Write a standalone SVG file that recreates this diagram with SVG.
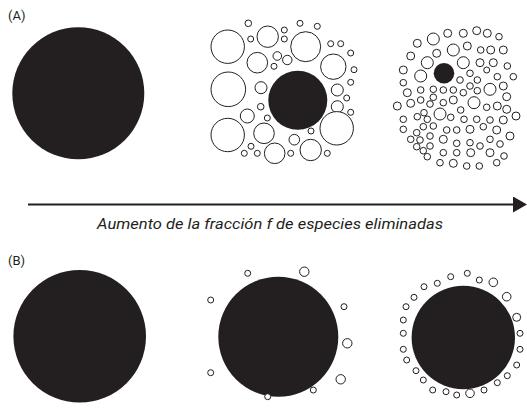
<svg xmlns="http://www.w3.org/2000/svg" width="527" height="411" viewBox="0 0 527 411">
<style>
.blk{fill:#231f20}
.o{fill:#fff;stroke:#231f20;stroke-width:1}
.lbl{font-family:Roboto,"Liberation Sans",sans-serif;font-size:13px;fill:#231f20}
.cap{font-family:Roboto,"Liberation Sans",sans-serif;font-size:14px;font-style:italic;fill:#231f20}
</style>
<defs>
<marker id="ah" markerWidth="14" markerHeight="16" refX="0" refY="8" orient="auto" markerUnits="userSpaceOnUse">
<path d="M0,0 L14,8 L0,16 Z" fill="#231f20"/>
</marker>
</defs>
<rect width="527" height="411" fill="#fff"/>
<text class="lbl" x="8" y="19.5">(A)</text>
<text class="lbl" x="8" y="264.5">(B)</text>

<g id="panelA1"><circle class="blk" cx="78.3" cy="93.3" r="66"/></g>

<g id="panelA2">
<circle class="blk" cx="297.8" cy="100.3" r="29.5"/>
<g class="o">
<circle cx="248.3" cy="23.3" r="3.3"/>
<circle cx="227.7" cy="46.7" r="16.7"/>
<circle cx="250.7" cy="39" r="3"/>
<circle cx="267.7" cy="36.7" r="10.7"/>
<circle cx="284.3" cy="30" r="3"/>
<circle cx="284.3" cy="39" r="3"/>
<circle cx="300" cy="23.3" r="3"/>
<circle cx="317.3" cy="26.3" r="3"/>
<circle cx="305.7" cy="46.7" r="15"/>
<circle cx="330.7" cy="43.7" r="3"/>
<circle cx="340.7" cy="43.7" r="3"/>
<circle cx="350.7" cy="53" r="3"/>
<circle cx="333.3" cy="66.7" r="12.7"/>
<circle cx="354" cy="69.7" r="3"/>
<circle cx="257.3" cy="62.7" r="10.3"/>
<circle cx="277.3" cy="56" r="4.3"/>
<circle cx="287.3" cy="60" r="4.7"/>
<circle cx="274" cy="66.3" r="3"/>
<circle cx="228.3" cy="89.3" r="17.3"/>
<circle cx="261" cy="87.7" r="6"/>
<circle cx="350.7" cy="82.3" r="3"/>
<circle cx="337.3" cy="90" r="6"/>
<circle cx="346.7" cy="98" r="3"/>
<circle cx="260.7" cy="106.7" r="3.3"/>
<circle cx="337.3" cy="106.7" r="6"/>
<circle cx="350.7" cy="112.3" r="3"/>
<circle cx="247.3" cy="116" r="7"/>
<circle cx="267.3" cy="118" r="3"/>
<circle cx="227.7" cy="135" r="16.7"/>
<circle cx="264" cy="133.3" r="10.3"/>
<circle cx="311" cy="131" r="3"/>
<circle cx="336.7" cy="128.3" r="16.7"/>
<circle cx="294.3" cy="139.7" r="5.3"/>
<circle cx="310.7" cy="150" r="10.7"/>
<circle cx="274.7" cy="153.3" r="10.3"/>
<circle cx="251" cy="146.3" r="3"/>
<circle cx="244.3" cy="153.3" r="3"/>
<circle cx="257.3" cy="153.3" r="3"/>
<circle cx="290.7" cy="153.3" r="3"/>
<circle cx="327.3" cy="153.3" r="3"/>
</g>
</g>

<g id="panelA3">
<g class="o">
<circle cx="476.7" cy="30.7" r="4"/>
<circle cx="487.3" cy="33.3" r="4"/>
<circle cx="463.3" cy="33.3" r="4"/>
<circle cx="447.7" cy="33.3" r="4"/>
<circle cx="499" cy="36.7" r="3.3"/>
<circle cx="433.3" cy="39" r="6"/>
<circle cx="417.3" cy="43.3" r="4"/>
<circle cx="453.3" cy="50" r="6"/>
<circle cx="467.3" cy="46" r="4"/>
<circle cx="480.7" cy="50" r="3.3"/>
<circle cx="490.7" cy="50" r="4"/>
<circle cx="503.3" cy="50" r="4"/>
<circle cx="436.7" cy="53.3" r="4"/>
<circle cx="410.7" cy="56" r="4"/>
<circle cx="427.3" cy="62.7" r="6"/>
<circle cx="463.3" cy="62.7" r="6"/>
<circle cx="480" cy="62.7" r="4"/>
<circle cx="493.3" cy="62.7" r="4"/>
<circle cx="507.3" cy="66" r="3.3"/>
<circle cx="486.7" cy="70" r="3"/>
<circle cx="403.3" cy="70" r="4"/>
<circle cx="420.7" cy="76" r="6"/>
<circle cx="470" cy="73.3" r="3.3"/>
<circle cx="497.3" cy="76.7" r="3.3"/>
<circle cx="513.3" cy="76.7" r="3.3"/>
<circle cx="460" cy="80" r="3.3"/>
<circle cx="477.3" cy="80" r="3.3"/>
<circle cx="403.3" cy="82.7" r="3.3"/>
<circle cx="490" cy="89.3" r="6"/>
<circle cx="407.3" cy="92.7" r="4"/>
<circle cx="420.7" cy="90" r="3.3"/>
<circle cx="433.3" cy="89.3" r="3.3"/>
<circle cx="443.3" cy="90" r="3.3"/>
<circle cx="453.3" cy="90" r="3.3"/>
<circle cx="470" cy="86" r="3.3"/>
<circle cx="477.3" cy="90.7" r="3.3"/>
<circle cx="463.3" cy="92.7" r="3.3"/>
<circle cx="503.3" cy="86" r="4"/>
<circle cx="506.7" cy="96.7" r="4"/>
<circle cx="433.3" cy="97.3" r="3.3"/>
<circle cx="420.7" cy="100" r="3.3"/>
<circle cx="453.3" cy="100" r="4"/>
<circle cx="474" cy="102.7" r="6"/>
<circle cx="443.3" cy="102.7" r="3.3"/>
<circle cx="410.7" cy="103.3" r="4"/>
<circle cx="430" cy="104" r="3.3"/>
<circle cx="397.3" cy="106" r="4"/>
<circle cx="497.3" cy="106" r="4"/>
<circle cx="486.7" cy="107.3" r="3.3"/>
<circle cx="506.7" cy="109.3" r="4"/>
<circle cx="460.7" cy="110" r="3.3"/>
<circle cx="440" cy="114" r="6"/>
<circle cx="424" cy="112.7" r="3.3"/>
<circle cx="516" cy="116" r="4"/>
<circle cx="403.3" cy="119.3" r="3.3"/>
<circle cx="417.3" cy="116.7" r="3.3"/>
<circle cx="427.3" cy="119.3" r="3.3"/>
<circle cx="450.7" cy="117.3" r="3.3"/>
<circle cx="464" cy="119.3" r="3.3"/>
<circle cx="476.7" cy="119.3" r="3.3"/>
<circle cx="490" cy="120" r="3.3"/>
<circle cx="503.3" cy="120" r="4"/>
<circle cx="433.3" cy="126" r="3.3"/>
<circle cx="423.3" cy="126.7" r="3.3"/>
<circle cx="483.3" cy="126.7" r="3.3"/>
<circle cx="403.3" cy="129.3" r="3.3"/>
<circle cx="446.7" cy="130" r="3.3"/>
<circle cx="456.7" cy="130" r="3.3"/>
<circle cx="470" cy="129.3" r="4"/>
<circle cx="496.7" cy="130" r="4"/>
<circle cx="416.7" cy="132.7" r="3.3"/>
<circle cx="430" cy="136" r="3.3"/>
<circle cx="510" cy="136" r="4"/>
<circle cx="443.3" cy="139.3" r="4"/>
<circle cx="410.7" cy="139.3" r="3.3"/>
<circle cx="420" cy="140" r="3.3"/>
<circle cx="490" cy="139.3" r="3.3"/>
<circle cx="456.7" cy="143.3" r="3.3"/>
<circle cx="470" cy="142.7" r="3.3"/>
<circle cx="480" cy="146" r="3.3"/>
<circle cx="500" cy="144" r="3.3"/>
<circle cx="430" cy="146" r="3.3"/>
<circle cx="416.7" cy="146.7" r="3.3"/>
<circle cx="443.3" cy="152.7" r="3.3"/>
<circle cx="456.7" cy="152.7" r="3.3"/>
<circle cx="423.3" cy="150.7" r="3.3"/>
<circle cx="470.7" cy="152.7" r="4"/>
<circle cx="490" cy="152.7" r="4"/>
<circle cx="504" cy="156" r="3.3"/>
<circle cx="427.3" cy="156.7" r="3.3"/>
<circle cx="440" cy="162.7" r="3.3"/>
<circle cx="453.3" cy="163.3" r="4"/>
<circle cx="466.7" cy="166" r="3.3"/>
<circle cx="479.3" cy="166" r="3.3"/>
<circle cx="496.7" cy="162.7" r="3.3"/>
</g>
<circle class="blk" cx="444" cy="73.3" r="10.3"/>
</g>

<g id="connectors">
<line x1="28" y1="204.5" x2="513" y2="204.5" stroke="#231f20" stroke-width="2" marker-end="url(#ah)"/>
</g>
<text class="cap" x="270" y="229" text-anchor="middle" textLength="346" lengthAdjust="spacingAndGlyphs">Aumento de la fracción f de especies eliminadas</text>

<g id="panelB1"><circle class="blk" cx="79.7" cy="336.3" r="66.3"/></g>

<g id="panelB2">
<circle class="blk" cx="278.3" cy="336.7" r="60"/>
<g class="o">
<circle cx="247.7" cy="273.3" r="3"/>
<circle cx="304.3" cy="271.7" r="4.7"/>
<circle cx="210.7" cy="300" r="3"/>
<circle cx="344" cy="306.7" r="3"/>
<circle cx="347.3" cy="343.3" r="4.7"/>
<circle cx="210.7" cy="372.7" r="3"/>
<circle cx="340.7" cy="379.3" r="4.7"/>
<circle cx="313.3" cy="390" r="3"/>
<circle cx="267.7" cy="396.7" r="3"/>
</g>
</g>

<g id="panelB3">
<circle class="blk" cx="463.3" cy="337.5" r="51.7"/>
<g class="o">
<circle cx="467.3" cy="273.3" r="3"/>
<circle cx="450.7" cy="276.7" r="3"/>
<circle cx="479.3" cy="280" r="3"/>
<circle cx="493.3" cy="282.3" r="4.3"/>
<circle cx="437.3" cy="283.3" r="3"/>
<circle cx="424" cy="286.7" r="3"/>
<circle cx="506.7" cy="296.7" r="4.3"/>
<circle cx="414" cy="297.3" r="3"/>
<circle cx="406" cy="306.7" r="3"/>
<circle cx="516.7" cy="317.3" r="4"/>
<circle cx="403.3" cy="320" r="3"/>
<circle cx="520" cy="333.3" r="3"/>
<circle cx="403.3" cy="333.3" r="3"/>
<circle cx="403.3" cy="349.3" r="3"/>
<circle cx="520" cy="349.3" r="3"/>
<circle cx="406.7" cy="360" r="3"/>
<circle cx="516.7" cy="365" r="3"/>
<circle cx="416" cy="370.7" r="3"/>
<circle cx="507.3" cy="375.7" r="3"/>
<circle cx="497.3" cy="382.7" r="3"/>
<circle cx="423.3" cy="380" r="3"/>
<circle cx="432.7" cy="390" r="3"/>
<circle cx="484" cy="390" r="3"/>
<circle cx="446" cy="391.7" r="3"/>
<circle cx="456.7" cy="395" r="3"/>
<circle cx="470" cy="393.3" r="4.3"/>
</g>
</g>
</svg>
